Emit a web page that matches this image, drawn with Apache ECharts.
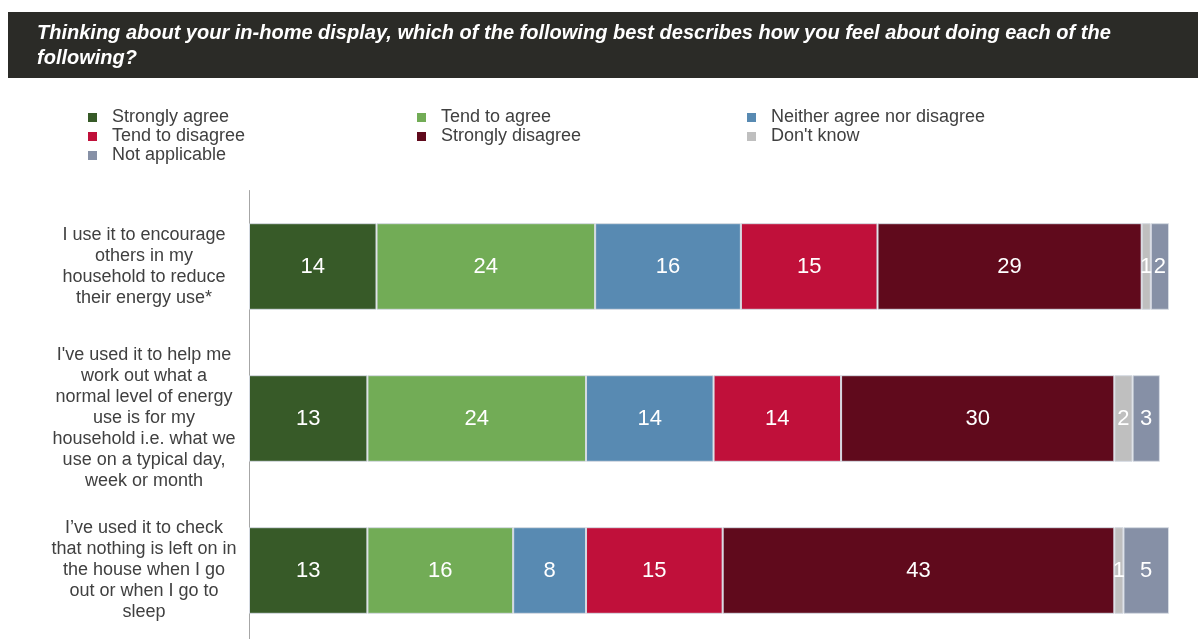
<!DOCTYPE html>
<html>
<head>
<meta charset="utf-8">
<script src="https://cdn.jsdelivr.net/npm/echarts@6/dist/echarts.min.js"></script>
<style>
  html, body { margin: 0; padding: 0; background: #ffffff; }
  #chart { width: 1198px; height: 639px; }
</style>
</head>
<body>
<div id="chart"></div>
<script>
// Survey statements (top to bottom)
const statements = [
  "I use it to encourage\nothers in my\nhousehold to reduce\ntheir energy use*",
  "I've used it to help me\nwork out what a\nnormal level of energy\nuse is for my\nhousehold i.e. what we\nuse on a typical day,\nweek or month",
  "I’ve used it to check\nthat nothing is left on in\nthe house when I go\nout or when I go to\nsleep"
];

// Response categories, in stacking order
const responses = [
  "Strongly agree",
  "Tend to agree",
  "Neither agree nor disagree",
  "Tend to disagree",
  "Strongly disagree",
  "Don't know",
  "Not applicable"
];

// Percentages per response, one value per statement
const stronglyAgree   = [14, 13, 13];
const tendToAgree     = [24, 24, 16];
const neither         = [16, 14, 8];
const tendToDisagree  = [15, 14, 15];
const stronglyDisagree= [29, 30, 43];
const dontKnow        = [1, 2, 1];
const notApplicable   = [2, 3, 5];

const seriesValues = [stronglyAgree, tendToAgree, neither, tendToDisagree,
                      stronglyDisagree, dontKnow, notApplicable];

const colors = ["#375a28", "#72ac56", "#588ab2", "#c0103a", "#600a1c", "#bfbfbf", "#8690a6"];

const titleText = "Thinking about your in-home display, which of the following best describes how you feel about doing each of the\nfollowing?";

const FONT = 'Liberation Sans, Arial, sans-serif';

const chart = echarts.init(document.getElementById('chart'), null, { renderer: 'canvas' });

const legendText = { color: '#404040', fontSize: 18, fontFamily: FONT, lineHeight: 19, padding: [0, 0, 0, 10] };
function legendAt(left, names) {
  return {
    orient: 'vertical', left: left, top: 103, itemWidth: 9, itemHeight: 9,
    itemGap: 0, icon: 'rect', textStyle: legendText, data: names,
    itemStyle: { borderWidth: 0 },
    selectedMode: false
  };
}

chart.setOption({
  animation: false,
  color: colors,
  graphic: [
    { type: 'rect', shape: { x: 8, y: 12, width: 1190, height: 66 }, style: { fill: '#2b2b27' }, silent: true },
    { type: 'text', left: 37, top: 21, style: {
        text: titleText, fill: '#ffffff', fontSize: 20, fontWeight: 'bold', fontStyle: 'italic',
        fontFamily: FONT, lineHeight: 25 } }
  ],
  legend: [
    legendAt(83, [responses[0], responses[3], responses[6]]),
    legendAt(412, [responses[1], responses[4]]),
    legendAt(742, [responses[2], responses[5]])
  ],
  grid: { left: 249, right: 29, top: 190.5, height: 456, containLabel: false, outerBoundsMode: 'none' },
  xAxis: { type: 'value', min: 0, max: 101, show: false },
  yAxis: {
    type: 'category', data: statements, inverse: true,
    axisLine: { show: true, lineStyle: { color: '#a6a6a6', width: 1 } },
    axisTick: { show: false },
    axisLabel: { align: 'center', margin: 105, color: '#404040', fontSize: 18,
                 lineHeight: 21, fontFamily: FONT }
  },
  series: responses.map((name, i) => ({
    name: name, type: 'bar', stack: 'total', barWidth: '57%',
    data: seriesValues[i],
    itemStyle: { color: colors[i], borderColor: '#d6dbe3', borderWidth: 1 },
    label: { show: true, position: 'inside', color: '#ffffff', fontSize: 22,
             fontFamily: FONT }
  }))
});
</script>
</body>
</html>
